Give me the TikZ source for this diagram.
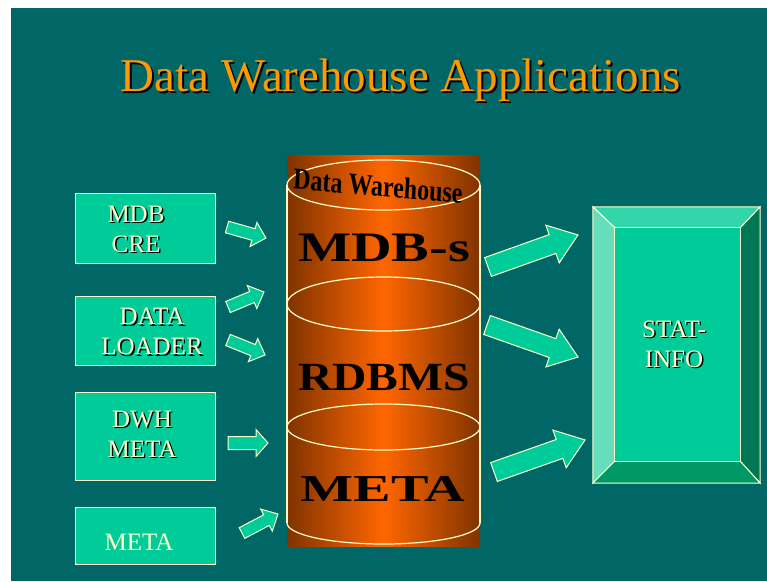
\documentclass[tikz,border=0pt]{standalone}
\usepackage{fontspec}
\setmainfont{Liberation Serif}
\usetikzlibrary{calc}

\definecolor{slate}{RGB}{0,102,102}
\definecolor{mint}{RGB}{0,204,153}
\definecolor{cream}{RGB}{255,255,204}
\definecolor{titleorange}{RGB}{255,153,0}
\definecolor{rust}{RGB}{128,51,0}
\definecolor{flame}{RGB}{255,102,0}
\definecolor{bevtop}{RGB}{51,214,170}
\definecolor{bevleft}{RGB}{102,221,187}
\definecolor{bevright}{RGB}{0,119,85}
\definecolor{bevbottom}{RGB}{0,153,102}

% text with a dark drop shadow
\newcommand\shd[2][1.5pt]{\leavevmode\rlap{\kern#1\raisebox{-#1}{\color{black}#2}}#2}

\tikzset{
  srcbox/.style={draw=cream, line width=1pt, fill=mint, minimum width=140, minimum height=#1, inner sep=0},
  srctext/.style={text=cream, font=\fontsize{25}{30}\selectfont, align=center, inner sep=0},
  cyltext/.style={text=black, font=\bfseries\fontsize{#1}{#1}\selectfont, inner sep=0},
  rim/.style={draw=cream, line width=1.2pt},
  arrowbody/.style={fill=mint, draw=cream, line width=1pt, line join=miter},
  pics/blockarrow/.style n args={4}{code={
    \filldraw[arrowbody] (0,-#2) -- ({#1-#4},-#2) -- ({#1-#4},-#3) -- (#1,0)
      -- ({#1-#4},#3) -- ({#1-#4},#2) -- (0,#2) -- cycle;}},
}

\begin{document}
\begin{tikzpicture}[x=1pt, y=-1pt]
\useasboundingbox (0,0) rectangle (767,581);
\fill[white] (0,0) rectangle (767,581);
\fill[slate] (11,8) rectangle (767,581);

% title
\node[text=titleorange, font=\fontsize{47}{47}\selectfont, inner sep=0, anchor=base] (title) at (401,91)
  {\shd[2pt]{Data Warehouse Applications}};

% the warehouse cylinder
\shade[left color=rust, right color=rust, middle color=flame] (287,155) rectangle (480,546);
\draw[rim] (383.5,185) ellipse [x radius=96.5, y radius=25];
\draw[rim] (383.5,304) ellipse [x radius=96.5, y radius=27];
\draw[rim] (383.5,427) ellipse [x radius=96.5, y radius=23];
\draw[rim] (287,523) arc [start angle=180, end angle=0, x radius=96.5, y radius=21];
\draw[rim] (287,185) -- (287,523);
\draw[rim] (480,185) -- (480,523);

\node[cyltext=30, xscale=0.8, rotate=-4] (dwh) at (378,186) {Data Warehouse};
\node[cyltext=42, xscale=1.34] (mdbs) at (384,248) {MDB-s};
\node[cyltext=40, xscale=1.19] (rdbms) at (384,377) {RDBMS};
\node[cyltext=38, xscale=1.48] (metac) at (383,489) {META};

% source boxes
\node[srcbox=70] (b1) at (145,228) {};
\node[srctext] (t1) at (136,230) {\shd{MDB}\\\shd{CRE}};
\node[srcbox=69] (b2) at (145,330.5) {};
\node[srctext] (t2) at (152,332.5) {\shd{DATA}\\\shd{LOADER}};
\node[srcbox=88] (b3) at (145,436) {};
\node[srctext] (t3) at (142,435) {\shd{DWH}\\\shd{META}};
\node[srcbox=57] (b4) at (145,535.5) {};
\node[srctext] (t4) at (139,542) {META};

% STAT-INFO panel with bevelled frame
\node[minimum width=167, minimum height=276, inner sep=0] (stat) at (676.5,345) {};
\node[minimum width=125, minimum height=233, inner sep=0] (statin) at (677.5,344.5) {};
\filldraw[fill=bevtop, draw=cream, line width=1pt] (stat.north west) -- (stat.north east) -- (statin.north east) -- (statin.north west) -- cycle;
\filldraw[fill=bevleft, draw=cream, line width=1pt] (stat.north west) -- (statin.north west) -- (statin.south west) -- (stat.south west) -- cycle;
\filldraw[fill=bevright, draw=cream, line width=1pt] (stat.north east) -- (stat.south east) -- (statin.south east) -- (statin.north east) -- cycle;
\filldraw[fill=bevbottom, draw=cream, line width=1pt] (stat.south west) -- (statin.south west) -- (statin.south east) -- (stat.south east) -- cycle;
\filldraw[fill=mint, draw=cream, line width=1pt] (statin.north west) rectangle (statin.south east);
\node[srctext] (stattext) at (674,345) {\shd{STAT-}\\\shd{INFO}};

% small block arrows into the warehouse
\coordinate (s1) at (227,227);
\coordinate (s2) at (228,307);
\coordinate (s3) at (228,340);
\coordinate (s4) at (228,443);
\coordinate (s5) at (242,533);
\pic[rotate=-15.8] at (s1) {blockarrow={40.5}{6}{12.5}{13}};
\pic[rotate=22.6] at (s2) {blockarrow={39}{6}{12.5}{13}};
\pic[rotate=-22] at (s3) {blockarrow={40}{6}{12.5}{13}};
\pic at (s4) {blockarrow={40}{6.5}{13.5}{12}};
\pic[rotate=27.8] at (s5) {blockarrow={40.7}{6}{12.5}{13}};

% large block arrows out of the warehouse
\coordinate (o1) at (488,267);
\coordinate (o2) at (487,325);
\coordinate (o3) at (494,472);
\pic[rotate=19.6] at (o1) {blockarrow={95.5}{10}{20}{27}};
\pic[rotate=-19.4] at (o2) {blockarrow={96.5}{10}{20}{27}};
\pic[rotate=19.4] at (o3) {blockarrow={96.5}{10}{20}{27}};
\end{tikzpicture}
\end{document}
